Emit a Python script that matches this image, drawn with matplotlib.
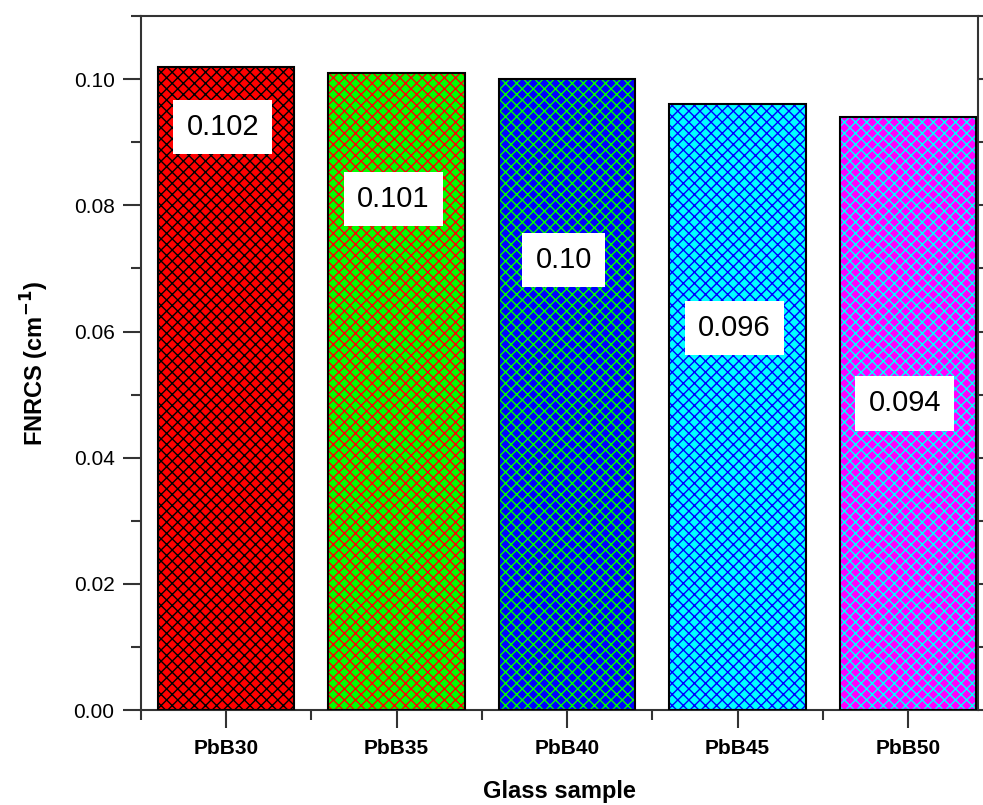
import matplotlib.pyplot as plt
from matplotlib.ticker import MultipleLocator, FixedLocator

plt.rcParams['font.family'] = ['Liberation Sans', 'DejaVu Sans']
plt.rcParams['hatch.linewidth'] = 1.0

samples = ['PbB30', 'PbB35', 'PbB40', 'PbB45', 'PbB50']
fnrcs = [0.102, 0.101, 0.100, 0.096, 0.094]
value_labels = ['0.102', '0.101', '0.10', '0.096', '0.094']
label_y = [0.0924, 0.0810, 0.0713, 0.0605, 0.0486]

face_colors = ['#FF0000', '#00FF00', '#0000FF', '#00FFFF', '#FF00FF']
hatch_colors = ['#000000', '#FF0000', '#00FF00', '#0000FF', '#00FFFF']

fig = plt.figure(figsize=(9.83, 8.05), dpi=100)
ax = fig.add_axes([0.1434, 0.118, 0.8515, 0.862])

x = list(range(1, len(samples) + 1))
for xi, val, fc, hc in zip(x, fnrcs, face_colors, hatch_colors):
    ax.bar(xi, val, width=0.8, color=fc, edgecolor=hc, hatch='xxx', linewidth=0, zorder=2)
ax.bar(x, fnrcs, width=0.8, facecolor='none', edgecolor='black', linewidth=1.5, zorder=3)

for xi, ly, txt in zip(x, label_y, value_labels):
    ax.text(xi - 0.02, ly, txt, fontsize=21, ha='center', va='center', zorder=4,
            bbox=dict(boxstyle='square,pad=0.45', facecolor='white', edgecolor='none'))

ax.set_xlim(0.5, 5.41)
ax.set_ylim(0, 0.11)
ax.set_xticks(x)
ax.set_xticklabels(samples, fontsize=15, fontweight='bold')
ax.xaxis.set_minor_locator(FixedLocator([0.5, 1.5, 2.5, 3.5, 4.5]))
ax.yaxis.set_major_locator(MultipleLocator(0.02))
ax.yaxis.set_minor_locator(MultipleLocator(0.01))
ax.yaxis.set_major_formatter(plt.FormatStrFormatter('%.2f'))
ax.tick_params(axis='y', labelsize=15)

ax.tick_params(which='major', direction='out', length=13, width=1.5, color='#333333')
ax.tick_params(which='minor', direction='out', length=7, width=1.5, color='#333333')
ax.tick_params(axis='y', which='both', right=True)
ax.tick_params(axis='x', which='major', pad=8)
ax.tick_params(axis='y', which='major', pad=6)

for s in ax.spines.values():
    s.set_linewidth(1.5)
    s.set_color('#333333')

ax.set_xlabel('Glass sample', fontsize=17, fontweight='bold', labelpad=16)
ax.set_ylabel('FNRCS (cm$^{\\mathbf{-1}}$)', fontsize=17, fontweight='bold', labelpad=16)

fig.savefig('out.png', dpi=100)
